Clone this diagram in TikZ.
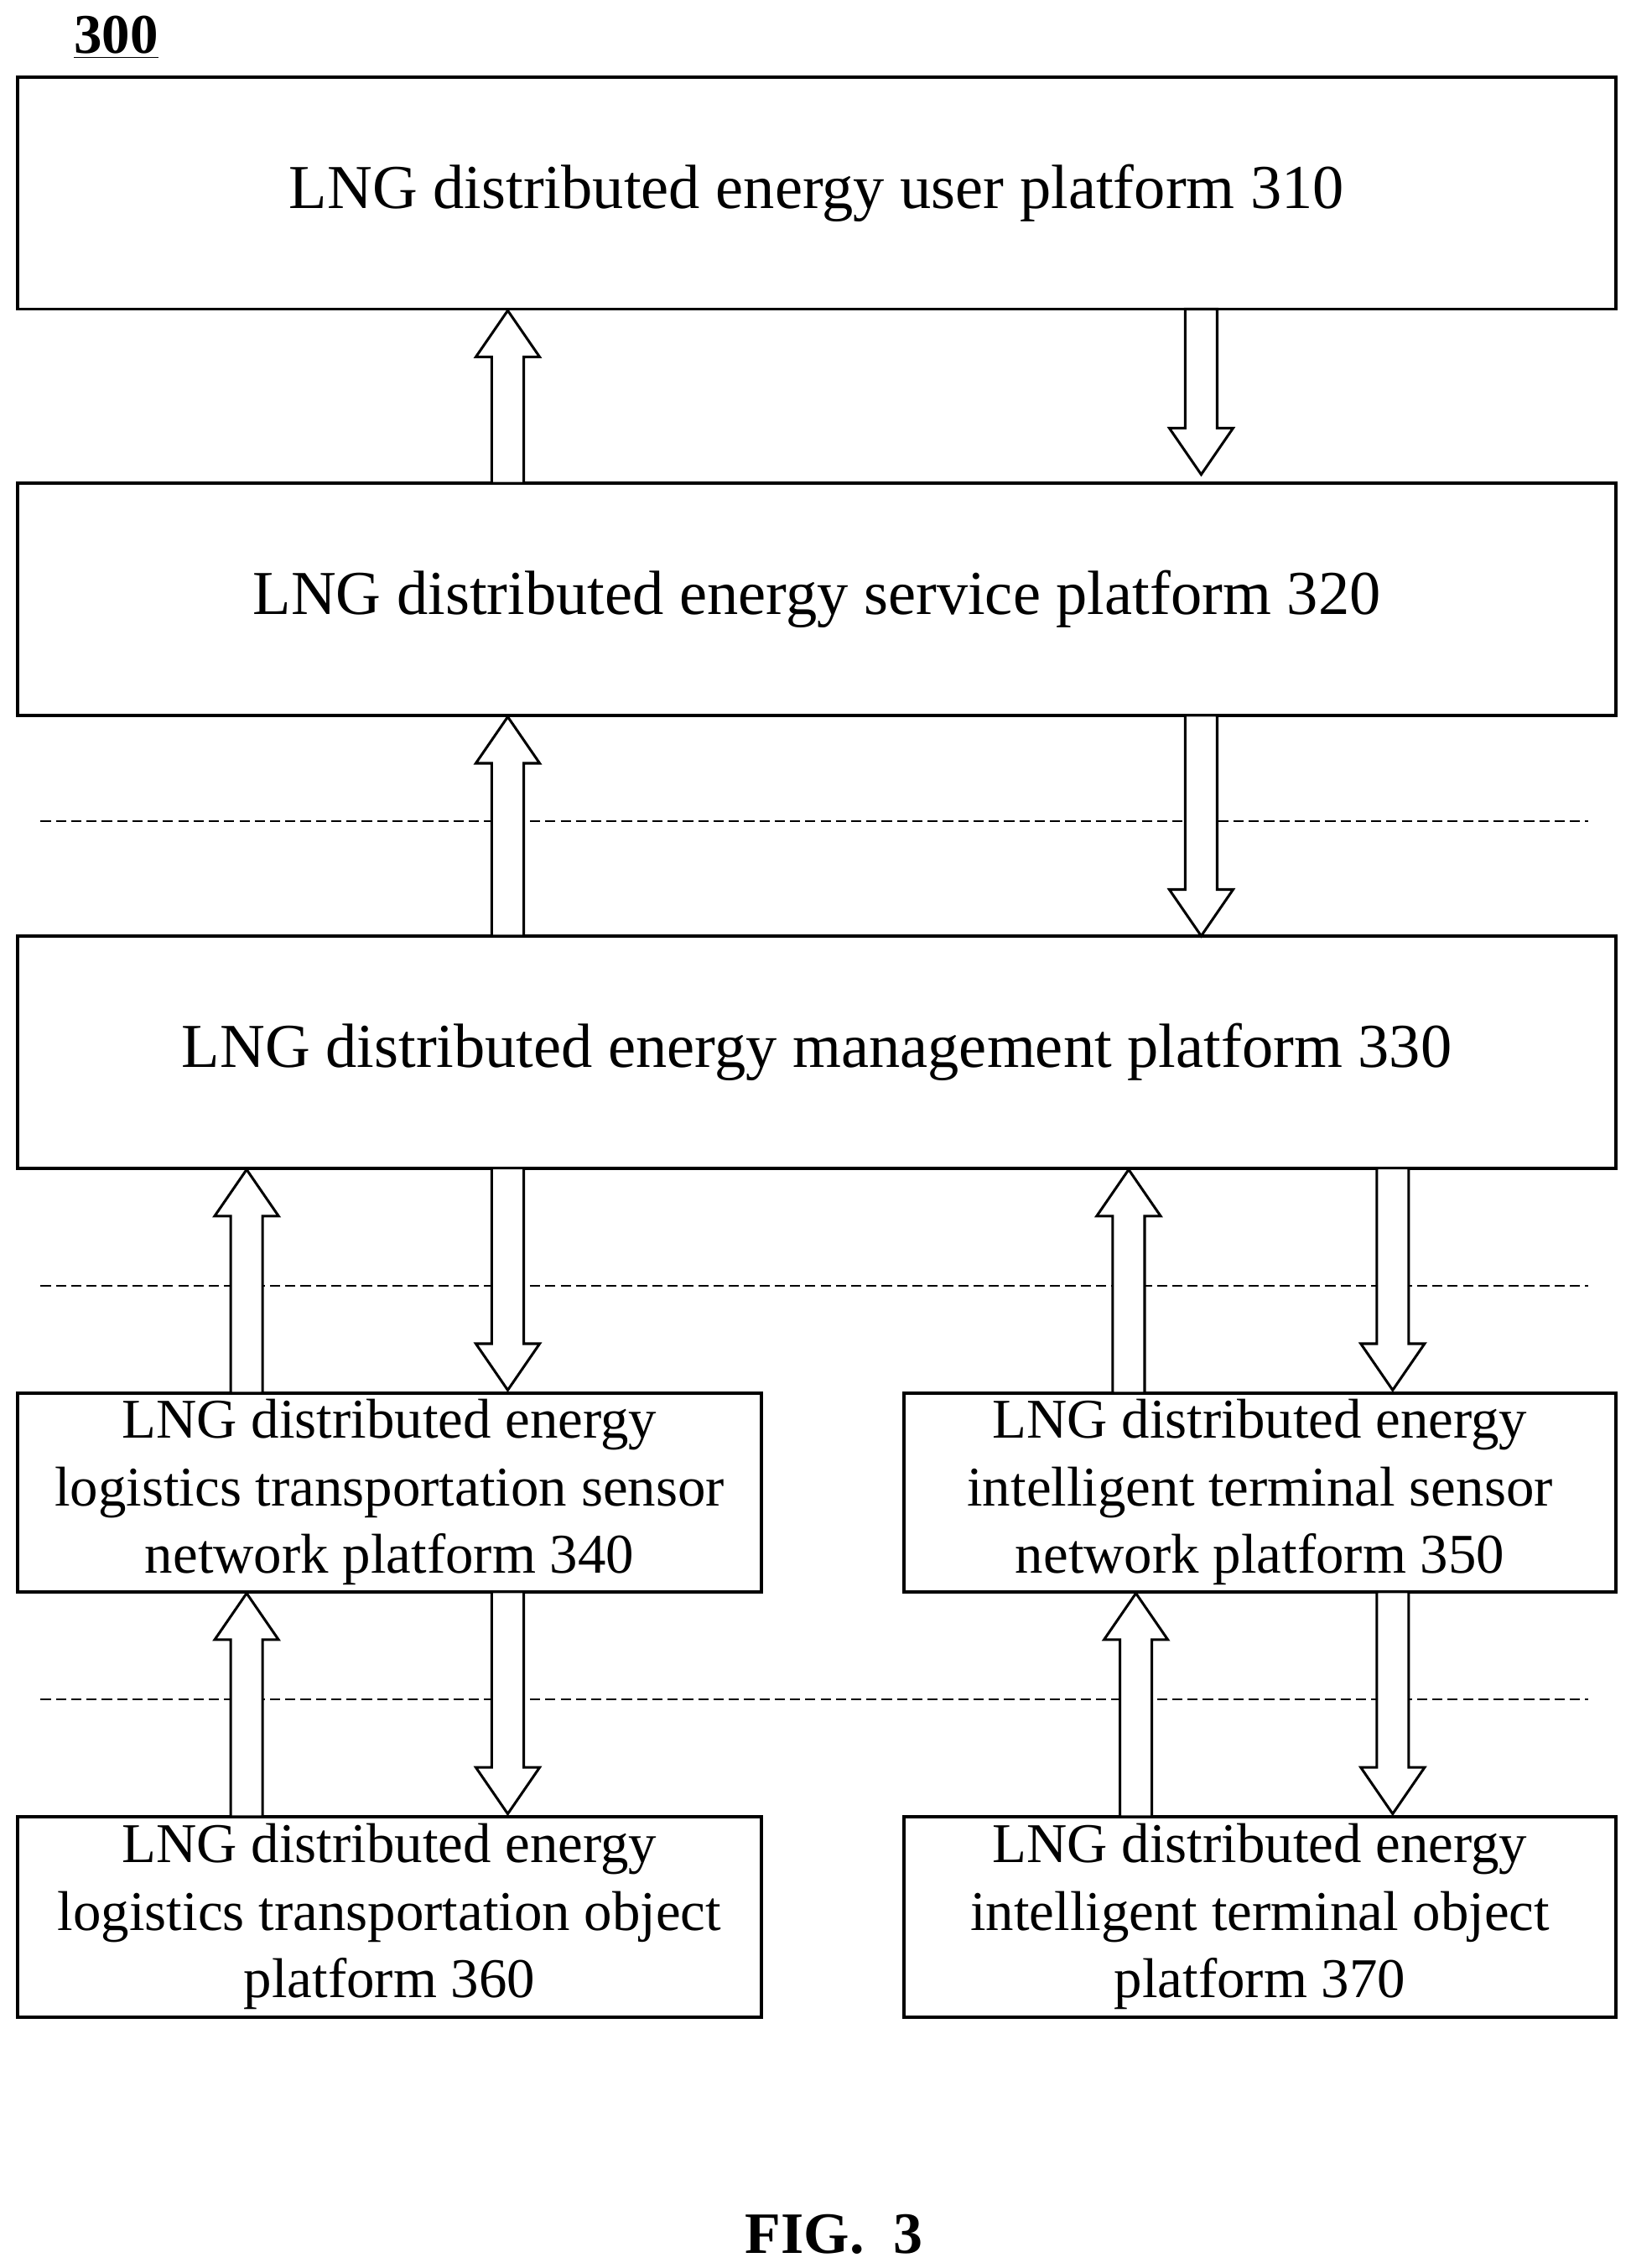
\documentclass[tikz,border=0pt]{standalone}
\usepackage{fontspec}
\setmainfont{Liberation Serif}
\begin{document}
\begin{tikzpicture}[x=0.02cm,y=-0.02cm,
  box/.style={draw,line width=1.2pt,inner sep=0pt,align=center},
  big/.style={font=\fontsize{24.5}{28}\selectfont},
  small/.style={font=\fontsize{22}{26.5}\selectfont},
  sep/.style={line width=0.6pt,dash pattern=on 4pt off 2pt}]
\useasboundingbox (0,0) rectangle (1124,1563);
\newcommand\blkup[3]{\draw[line width=1pt,fill=white] ({#1-11},#3) -- ({#1-11},{#2+32}) -- ({#1-22},{#2+32}) -- (#1,#2) -- ({#1+22},{#2+32}) -- ({#1+11},{#2+32}) -- ({#1+11},#3) -- cycle;}
\newcommand\blkdn[3]{\draw[line width=1pt,fill=white] ({#1-11},#2) -- ({#1-11},{#3-32}) -- ({#1-22},{#3-32}) -- (#1,#3) -- ({#1+22},{#3-32}) -- ({#1+11},{#3-32}) -- ({#1+11},#2) -- cycle;}
\node[font=\fontsize{22}{24}\selectfont\bfseries] (lbl) at (80,26) {\underline{300}};
\draw[sep] (28,566) coordinate (d1a) -- (1095,566) coordinate (d1b);
\draw[sep] (28,886) coordinate (d2a) -- (1095,886) coordinate (d2b);
\draw[sep] (28,1171) coordinate (d3a) -- (1095,1171) coordinate (d3b);
\node[box,big,minimum width=1102*0.02cm,minimum height=160*0.02cm] (b310) at (563,133) {LNG distributed energy user platform 310};
\node[box,big,minimum width=1102*0.02cm,minimum height=160*0.02cm] (b320) at (563,413) {LNG distributed energy service platform 320};
\node[box,big,minimum width=1102*0.02cm,minimum height=160*0.02cm] (b330) at (563,725) {LNG distributed energy management platform 330};
\node[box,small,minimum width=513*0.02cm,minimum height=137*0.02cm] (b340) at (268.5,1028.5) {LNG distributed energy\\logistics transportation sensor\\network platform 340};
\node[box,small,minimum width=491*0.02cm,minimum height=137*0.02cm] (b350) at (868.5,1028.5) {LNG distributed energy\\intelligent terminal sensor\\network platform 350};
\node[box,small,minimum width=513*0.02cm,minimum height=138*0.02cm] (b360) at (268.5,1321) {LNG distributed energy\\logistics transportation object\\platform 360};
\node[box,small,minimum width=491*0.02cm,minimum height=138*0.02cm] (b370) at (868.5,1321) {LNG distributed energy\\intelligent terminal object\\platform 370};
\blkup{350}{214}{333}
\blkdn{828}{213}{327}
\blkup{350}{494}{645}
\blkdn{828}{493}{645}
\blkup{170}{806}{960}
\blkdn{350}{805}{958}
\blkup{778}{806}{960}
\blkdn{960}{805}{958}
\blkup{170}{1098}{1252}
\blkdn{350}{1097}{1250}
\blkup{783}{1098}{1252}
\blkdn{960}{1097}{1250}
\node[font=\fontsize{23}{26}\selectfont\bfseries] (fig) at (575,1540) {FIG.\ \ 3};
\end{tikzpicture}
\end{document}
